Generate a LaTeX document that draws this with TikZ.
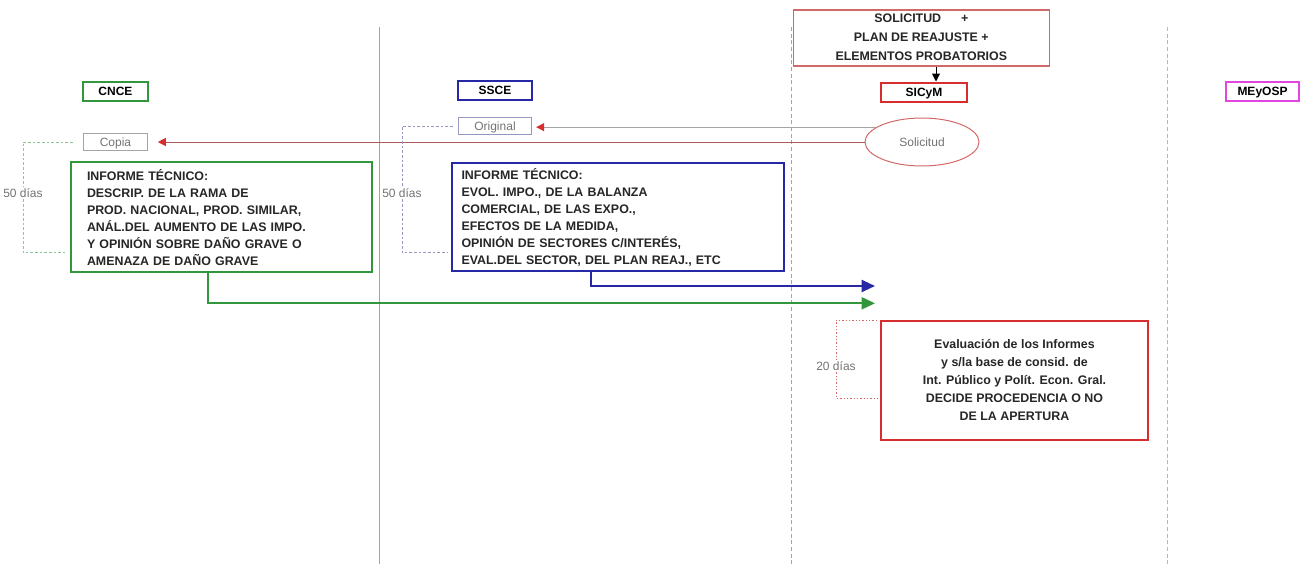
\documentclass[tikz,border=0pt]{standalone}
\usepackage{fontspec}
\setmainfont{Liberation Sans}
\usetikzlibrary{shapes.geometric,arrows.meta}

\definecolor{cnceGreen}{RGB}{50,150,60}
\definecolor{ssceBlue}{RGB}{40,40,165}
\definecolor{sicymRed}{RGB}{215,45,45}
\definecolor{solPink}{RGB}{210,105,105}
\definecolor{meyMagenta}{RGB}{225,70,225}
\definecolor{laneGray}{RGB}{165,165,165}
\definecolor{noteGray}{RGB}{115,115,115}
\definecolor{origLav}{RGB}{150,150,195}
\definecolor{copiaLine}{RGB}{175,90,90}

\tikzset{every picture/.style={line width=0.75pt}}
\tikzset{
  orgbox/.style={draw=#1, line width=1.5pt, inner sep=0pt, minimum height=14.25pt,
    text height=6.7pt, text depth=0pt, font=\fontsize{9}{11}\selectfont\bfseries},
  notebox/.style={draw=#1, line width=0.75pt, inner sep=0pt, minimum height=13pt,
    text height=6.5pt, text depth=0pt, text=noteGray, font=\fontsize{9}{11}\selectfont},
  infobox/.style={draw=#1, line width=1.5pt, inner ysep=0pt, align=left,
    text=black!85, font=\fontsize{9.3}{12.75}\selectfont\bfseries},
  dayslabel/.style={text=noteGray, font=\fontsize{9}{11}\selectfont, inner sep=1pt},
  lane/.style={draw=laneGray, line width=0.75pt},
  flow/.style={draw=#1, line width=1.5pt, -{Triangle[length=10pt,width=9pt]}},
  redtip/.style={-{Triangle[length=6pt,width=6pt,color=sicymRed]}, line width=0.6pt},
}

\begin{document}
\begin{tikzpicture}[x=0.75pt,y=0.75pt,yscale=-1,xscale=1]
\path[use as bounding box] (0,0) rectangle (1304,564);

%Straight Lines (lanes)
\draw [lane] (379,27) -- (379,564) ;
\draw [lane, densely dashed] (791,27) -- (791,564) ;
\draw [lane, densely dashed, laneGray!80] (1167,27) -- (1167,564) ;

% Text Node
\node [orgbox=cnceGreen, minimum width=48.3pt] (cnce) at (115.5,91.2) {CNCE};
% Text Node
\node [orgbox=ssceBlue, minimum width=56pt] (ssce) at (495,90.5) {SSCE};
% Text Node
\node [orgbox=sicymRed, minimum width=65pt] (sicym) at (924,92) {SICyM};
% Text Node
\node [orgbox=meyMagenta, minimum width=54.75pt] (meyosp) at (1262.5,91.5) {MEyOSP};

% Text Node
\node [draw=solPink, fill=white, line width=1.2pt, minimum width=192pt, minimum height=42pt, inner sep=0pt,
  align=center, text=black!85, font=\fontsize{9.3}{14.25}\selectfont\bfseries] (solbox) at (921.3,37.7)
  {SOLICITUD\hspace{1.6em}+\\PLAN DE REAJUSTE +\\ELEMENTOS PROBATORIOS};

% Text Node
\node [ellipse, draw=solPink, minimum width=85.5pt, minimum height=36pt, inner sep=0pt,
  text=noteGray, font=\fontsize{9}{11}\selectfont] (solicitud) at (922,142) {Solicitud};
% Text Node
\node [notebox=laneGray, minimum width=47.7pt] (copia) at (115.5,142) {Copia};
% Text Node
\node [notebox=origLav, minimum width=55pt] (original) at (495,126) {Original};

% Text Node
\node [infobox=cnceGreen, inner xsep=12pt, text width=201.75pt, minimum height=82.5pt] (cnceInfo) at (221.5,217.3)
  {INFORME TÉCNICO:\\DESCRIP. DE LA RAMA DE\\PROD. NACIONAL, PROD. SIMILAR,\\ANÁL.DEL AUMENTO DE LAS IMPO.\\Y OPINIÓN SOBRE DAÑO GRAVE O\\AMENAZA DE DAÑO GRAVE};
% Text Node
\node [infobox=ssceBlue, inner xsep=7.5pt, text width=234pt, minimum height=80.5pt] (ssceInfo) at (617.5,217)
  {INFORME TÉCNICO:\\EVOL. IMPO., DE LA BALANZA\\COMERCIAL, DE LAS EXPO.,\\EFECTOS DE LA MEDIDA,\\OPINIÓN DE SECTORES C/INTERÉS,\\EVAL.DEL SECTOR, DEL PLAN REAJ., ETC};
% Text Node
\node [draw=sicymRed, line width=1.5pt, minimum width=200.25pt, minimum height=89.25pt, inner sep=0pt,
  align=center, text=black!85, font=\fontsize{9.3}{13.5}\selectfont\bfseries] (evalbox) at (1014.5,380.3)
  {Evaluación de los Informes\\y s/la base de consid. de\\Int. Público y Polít. Econ. Gral.\\DECIDE PROCEDENCIA O NO\\DE LA APERTURA};

% Text Node
\node [dayslabel] (cnceDays) at (23,193) {50 días};
% Text Node
\node [dayslabel] (ssceDays) at (402,193) {50 días};
% Text Node
\node [dayslabel] (evalDays) at (836,366) {20 días};

\coordinate (solDrop) at (936,0);
\coordinate (blueDrop) at (590.7,0);
\coordinate (greenDrop) at (207.5,0);
\coordinate (blueEnd) at (875,286);
\coordinate (greenEnd) at (875,303.3);
\coordinate (cnceDaysBot) at (65,252.7);
\coordinate (ssceDaysBot) at (448,252.7);
\coordinate (evalDaysTop) at (877,320);
\coordinate (evalDaysBot) at (877,398);

%Straight Lines
\draw [-{Triangle[length=6pt,width=6pt]}] (solbox.south -| solDrop) -- (sicym.north -| solDrop) ;
%Straight Lines
\draw [redtip, draw=laneGray, shorten >=3pt] (solicitud.162) -- (solicitud.162 -| original.east) ;
%Straight Lines
\draw [redtip, draw=copiaLine, shorten >=7.5pt] (solicitud.west) -- (solicitud.west -| copia.east) ;

%Bracket Lines
\draw [cnceGreen!55, dash pattern=on 2pt off 1.5pt] ([xshift=-8pt]copia.west) -| (cnceDays.north) ;
\draw [cnceGreen!55, dash pattern=on 2pt off 1.5pt] (cnceDays.south) |- (cnceDaysBot) ;
%Bracket Lines
\draw [origLav, dash pattern=on 2pt off 1.5pt] ([xshift=-4pt]original.west) -| (ssceDays.north) ;
\draw [origLav, dash pattern=on 2pt off 1.5pt] (ssceDays.south) |- (ssceDaysBot) ;
%Bracket Lines
\draw [solPink, dash pattern=on 1pt off 1.5pt] (evalDaysTop) -| (evalDays.north) ;
\draw [solPink, dash pattern=on 1pt off 1.5pt] (evalDays.south) |- (evalDaysBot) ;

%Flow Lines
\draw [flow=ssceBlue] (ssceInfo.south -| blueDrop) |- (blueEnd) ;
%Flow Lines
\draw [flow=cnceGreen] (cnceInfo.south -| greenDrop) |- (greenEnd) ;

\end{tikzpicture}
\end{document}
